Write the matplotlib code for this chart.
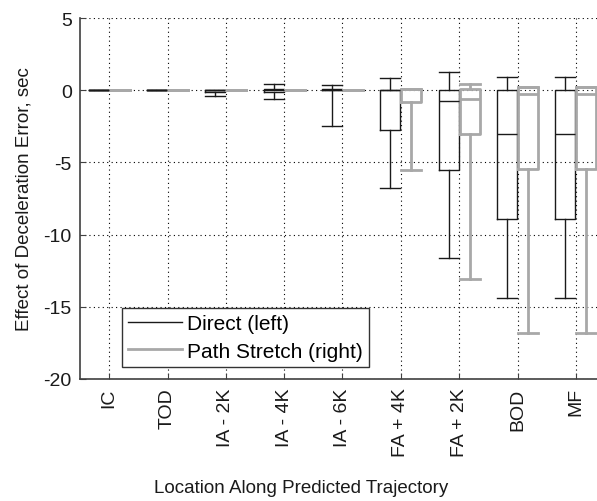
import matplotlib
matplotlib.use('Agg')
import matplotlib.pyplot as plt
from matplotlib.lines import Line2D

categories = ['IC', 'TOD', 'IA - 2K', 'IA - 4K', 'IA - 6K', 'FA + 4K', 'FA + 2K', 'BOD', 'MF']

# Direct (left) box statistics
d_whishi = [0, 0, 0, 0.45, 0.35, 0.85, 1.25, 0.9, 0.9]
d_q3 = [0, 0, 0, 0.1, 0.05, 0, 0, 0, 0]
d_med = [0, 0, 0, 0, 0, 0, -0.75, -3.05, -3.05]
d_q1 = [0, 0, -0.1, -0.1, 0, -2.75, -5.5, -8.9, -8.9]
d_whislo = [0, 0, -0.4, -0.6, -2.47, -6.8, -11.65, -14.4, -14.4]

# Path Stretch (right) box statistics
p_whishi = [0, 0, 0, 0, 0, 0.05, 0.4, 0.25, 0.25]
p_q3 = [0, 0, 0, 0, 0, 0.05, 0.05, 0.25, 0.25]
p_med = [0, 0, 0, 0, 0, 0.05, -0.6, -0.25, -0.25]
p_q1 = [0, 0, 0, 0, 0, -0.85, -3.0, -5.47, -5.47]
p_whislo = [0, 0, 0, 0, 0, -5.55, -13.1, -16.8, -16.8]

plt.rcParams['font.family'] = ['Liberation Sans', 'DejaVu Sans']
plt.rcParams['font.size'] = 13
plt.rcParams['axes.unicode_minus'] = False

W, H = 597, 502
fig = plt.figure(figsize=(W / 100, H / 100), dpi=100)
AX_L, AX_T, AX_B, AX_R = 80, 19, 380, 605
ax = fig.add_axes([AX_L / W, (H - AX_B) / H, (AX_R - AX_L) / W, (AX_B - AX_T) / H])
axw, axh = AX_R - AX_L, AX_B - AX_T

def make_stats(hi, q3, med, q1, lo):
    return [dict(whishi=a, q3=b, med=c, q1=d, whislo=e, fliers=[])
            for a, b, c, d, e in zip(hi, q3, med, q1, lo)]

n = len(categories)
pos = list(range(1, n + 1))
off = 0.18
wid = 0.34

black = '#1a1a1a'
gray = '#a8a8a8'

def style(color, lw):
    return dict(
        boxprops=dict(color=color, linewidth=lw),
        whiskerprops=dict(color=color, linewidth=lw, linestyle='-'),
        capprops=dict(color=color, linewidth=lw),
        medianprops=dict(color=color, linewidth=lw),
    )

ax.bxp(make_stats(d_whishi, d_q3, d_med, d_q1, d_whislo),
       positions=[p - off for p in pos], widths=wid, capwidths=wid,
       showfliers=False, manage_ticks=False, **style(black, 1.0))
ax.bxp(make_stats(p_whishi, p_q3, p_med, p_q1, p_whislo),
       positions=[p + off for p in pos], widths=wid, capwidths=wid,
       showfliers=False, manage_ticks=False, **style(gray, 2.0))

ax.set_xlim(0.5, n + 0.5)
ax.set_ylim(-20, 5)
ax.set_xticks(pos)
ax.set_xticklabels(categories, rotation=90)
ax.set_yticks([-20, -15, -10, -5, 0, 5])

ax.grid(True, color='k', linestyle=(0, (1, 3)), linewidth=0.8)
ax.set_axisbelow(True)

for s in ['top', 'right']:
    ax.spines[s].set_visible(False)
for s in ['left', 'bottom']:
    ax.spines[s].set_color('#404040')
    ax.spines[s].set_linewidth(1.2)
ax.tick_params(direction='in', length=4, color='#404040', labelcolor='#1a1a1a',
               labelsize=14, top=False, right=False, pad=6)

ax.set_ylabel('Effect of Deceleration Error, sec', fontsize=13.5, color='#1a1a1a')
ax.set_xlabel('Location Along Predicted Trajectory', fontsize=13.5, color='#1a1a1a')
ax.yaxis.set_label_coords((33 - AX_L) / axw, 0.5)
ax.xaxis.set_label_coords(0.5 * (153 + 450 - 2 * AX_L) / axw, (AX_B - 480) / axh)

handles = [Line2D([], [], color=black, lw=1.0), Line2D([], [], color=gray, lw=2.0)]
leg = ax.legend(handles, ['Direct (left)', 'Path Stretch (right)'],
                loc='lower left', bbox_to_anchor=(42 / axw, 12 / axh),
                fancybox=False, framealpha=1, edgecolor='#333333',
                fontsize=15, handlelength=2.6, borderpad=0.3,
                labelspacing=0.4, handletextpad=0.2, borderaxespad=0)
leg.get_frame().set_linewidth(1.0)

fig.savefig('out.png', dpi=100)
